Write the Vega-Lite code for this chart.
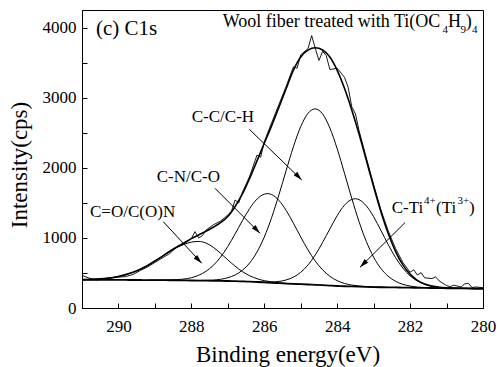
{
"$schema": "https://vega.github.io/schema/vega-lite/v6.json",
"width": 401, "height": 298,
"autosize": {"type": "none"},
"padding": {"left": 82, "top": 10, "right": 17, "bottom": 59},
"background": "white",
"config": {"view": {"stroke": "black", "strokeWidth": 1}, "font": "Liberation Serif"},
"datasets": {
"raw": [{"e":291.0,"v":465},{"e":290.8,"v":425},{"e":290.6,"v":400},{"e":290.4,"v":412},{"e":290.2,"v":426},{"e":290.0,"v":440},{"e":289.8,"v":448},{"e":289.6,"v":478},{"e":289.4,"v":535},{"e":289.2,"v":585},{"e":289.0,"v":650},{"e":288.8,"v":712},{"e":288.6,"v":775},{"e":288.4,"v":868},{"e":288.2,"v":915},{"e":288.0,"v":990},{"e":287.9,"v":1090},{"e":287.8,"v":1000},{"e":287.7,"v":1030},{"e":287.6,"v":1110},{"e":287.4,"v":1185},{"e":287.2,"v":1240},{"e":287.0,"v":1325},{"e":286.9,"v":1380},{"e":286.8,"v":1540},{"e":286.7,"v":1500},{"e":286.6,"v":1650},{"e":286.4,"v":1880},{"e":286.2,"v":2180},{"e":286.1,"v":2150},{"e":286.0,"v":2370},{"e":285.8,"v":2640},{"e":285.6,"v":2900},{"e":285.4,"v":3160},{"e":285.2,"v":3440},{"e":285.1,"v":3420},{"e":285.0,"v":3610},{"e":284.8,"v":3700},{"e":284.7,"v":3885},{"e":284.6,"v":3700},{"e":284.5,"v":3530},{"e":284.4,"v":3660},{"e":284.3,"v":3600},{"e":284.2,"v":3400},{"e":284.0,"v":3420},{"e":283.8,"v":3290},{"e":283.7,"v":3150},{"e":283.6,"v":2870},{"e":283.5,"v":2770},{"e":283.4,"v":2530},{"e":283.2,"v":2140},{"e":283.0,"v":1760},{"e":282.8,"v":1400},{"e":282.6,"v":1100},{"e":282.4,"v":850},{"e":282.2,"v":650},{"e":282.0,"v":510},{"e":281.9,"v":545},{"e":281.8,"v":470},{"e":281.7,"v":505},{"e":281.6,"v":430},{"e":281.4,"v":420},{"e":281.3,"v":445},{"e":281.2,"v":385},{"e":281.0,"v":320},{"e":280.9,"v":305},{"e":280.8,"v":325},{"e":280.6,"v":300},{"e":280.5,"v":345},{"e":280.4,"v":352},{"e":280.3,"v":292},{"e":280.2,"v":300},{"e":280.0,"v":290}],
"bg": [{"e":291.0,"v":402},{"e":290.8,"v":402},{"e":290.6,"v":401},{"e":290.4,"v":401},{"e":290.2,"v":400},{"e":290.0,"v":400},{"e":289.8,"v":400},{"e":289.6,"v":399},{"e":289.4,"v":399},{"e":289.2,"v":398},{"e":289.0,"v":398},{"e":288.8,"v":397},{"e":288.6,"v":396},{"e":288.4,"v":395},{"e":288.2,"v":393},{"e":288.0,"v":392},{"e":287.8,"v":391},{"e":287.6,"v":390},{"e":287.4,"v":388},{"e":287.2,"v":386},{"e":287.0,"v":385},{"e":286.8,"v":383},{"e":286.6,"v":380},{"e":286.4,"v":376},{"e":286.2,"v":371},{"e":286.0,"v":365},{"e":285.8,"v":360},{"e":285.6,"v":354},{"e":285.4,"v":349},{"e":285.2,"v":344},{"e":285.0,"v":340},{"e":284.8,"v":335},{"e":284.6,"v":330},{"e":284.4,"v":325},{"e":284.2,"v":319},{"e":284.0,"v":314},{"e":283.8,"v":310},{"e":283.6,"v":307},{"e":283.4,"v":304},{"e":283.2,"v":301},{"e":283.0,"v":298},{"e":282.8,"v":296},{"e":282.6,"v":295},{"e":282.4,"v":293},{"e":282.2,"v":291},{"e":282.0,"v":290},{"e":281.8,"v":288},{"e":281.6,"v":287},{"e":281.4,"v":285},{"e":281.2,"v":284},{"e":281.0,"v":282},{"e":280.8,"v":281},{"e":280.6,"v":280},{"e":280.4,"v":279},{"e":280.2,"v":277},{"e":280.0,"v":276}],
"fit": [{"e":291.0,"v":405},{"e":290.8,"v":408},{"e":290.6,"v":412},{"e":290.4,"v":420},{"e":290.2,"v":431},{"e":290.0,"v":450},{"e":289.8,"v":476},{"e":289.6,"v":509},{"e":289.4,"v":554},{"e":289.2,"v":607},{"e":289.0,"v":670},{"e":288.8,"v":737},{"e":288.6,"v":806},{"e":288.4,"v":871},{"e":288.2,"v":928},{"e":288.0,"v":989},{"e":287.8,"v":1042},{"e":287.6,"v":1094},{"e":287.4,"v":1151},{"e":287.2,"v":1217},{"e":287.0,"v":1305},{"e":286.8,"v":1447},{"e":286.6,"v":1626},{"e":286.4,"v":1851},{"e":286.2,"v":2099},{"e":286.0,"v":2349},{"e":285.8,"v":2598},{"e":285.6,"v":2860},{"e":285.4,"v":3127},{"e":285.2,"v":3392},{"e":285.0,"v":3580},{"e":284.8,"v":3678},{"e":284.6,"v":3711},{"e":284.4,"v":3680},{"e":284.2,"v":3579},{"e":284.0,"v":3389},{"e":283.8,"v":3133},{"e":283.6,"v":2825},{"e":283.4,"v":2481},{"e":283.2,"v":2108},{"e":283.0,"v":1729},{"e":282.8,"v":1373},{"e":282.6,"v":1062},{"e":282.4,"v":808},{"e":282.2,"v":616},{"e":282.0,"v":483},{"e":281.8,"v":395},{"e":281.6,"v":343},{"e":281.4,"v":312},{"e":281.2,"v":295},{"e":281.0,"v":287},{"e":280.8,"v":283},{"e":280.6,"v":281},{"e":280.4,"v":279},{"e":280.2,"v":277},{"e":280.0,"v":276}],
"co": [{"e":291.0,"v":405},{"e":290.8,"v":408},{"e":290.6,"v":412},{"e":290.4,"v":420},{"e":290.2,"v":431},{"e":290.0,"v":450},{"e":289.8,"v":476},{"e":289.6,"v":509},{"e":289.4,"v":554},{"e":289.2,"v":607},{"e":289.0,"v":670},{"e":288.8,"v":735},{"e":288.6,"v":801},{"e":288.4,"v":861},{"e":288.2,"v":908},{"e":288.0,"v":939},{"e":287.8,"v":949},{"e":287.6,"v":927},{"e":287.4,"v":866},{"e":287.2,"v":780},{"e":287.0,"v":686},{"e":286.8,"v":596},{"e":286.6,"v":519},{"e":286.4,"v":460},{"e":286.2,"v":418},{"e":286.0,"v":390},{"e":285.8,"v":372},{"e":285.6,"v":359},{"e":285.4,"v":351},{"e":285.2,"v":345},{"e":285.0,"v":340}],
"cn": [{"e":289.2,"v":398},{"e":289.0,"v":399},{"e":288.8,"v":399},{"e":288.6,"v":400},{"e":288.4,"v":405},{"e":288.2,"v":413},{"e":288.0,"v":432},{"e":287.8,"v":467},{"e":287.6,"v":523},{"e":287.4,"v":607},{"e":287.2,"v":725},{"e":287.0,"v":878},{"e":286.8,"v":1056},{"e":286.6,"v":1245},{"e":286.4,"v":1419},{"e":286.2,"v":1553},{"e":286.0,"v":1623},{"e":285.9,"v":1631},{"e":285.8,"v":1618},{"e":285.6,"v":1536},{"e":285.4,"v":1392},{"e":285.2,"v":1209},{"e":285.0,"v":1013},{"e":284.8,"v":828},{"e":284.6,"v":669},{"e":284.4,"v":544},{"e":284.2,"v":452},{"e":284.0,"v":390},{"e":283.8,"v":350},{"e":283.6,"v":327},{"e":283.4,"v":314},{"e":283.2,"v":305},{"e":283.0,"v":300},{"e":282.8,"v":297},{"e":282.6,"v":295}],
"cc": [{"e":288.0,"v":393},{"e":287.8,"v":393},{"e":287.6,"v":395},{"e":287.4,"v":399},{"e":287.2,"v":409},{"e":287.0,"v":432},{"e":286.8,"v":471},{"e":286.6,"v":538},{"e":286.4,"v":643},{"e":286.2,"v":798},{"e":286.0,"v":1012},{"e":285.8,"v":1287},{"e":285.6,"v":1611},{"e":285.4,"v":1961},{"e":285.2,"v":2301},{"e":285.0,"v":2587},{"e":284.8,"v":2777},{"e":284.6,"v":2840},{"e":284.4,"v":2767},{"e":284.2,"v":2566},{"e":284.0,"v":2271},{"e":283.8,"v":1922},{"e":283.6,"v":1564},{"e":283.4,"v":1231},{"e":283.2,"v":948},{"e":283.0,"v":725},{"e":282.8,"v":563},{"e":282.6,"v":453},{"e":282.4,"v":381},{"e":282.2,"v":338},{"e":282.0,"v":313},{"e":281.8,"v":299},{"e":281.6,"v":292},{"e":281.4,"v":287},{"e":281.2,"v":285}],
"cti": [{"e":286.6,"v":380},{"e":286.4,"v":377},{"e":286.2,"v":373},{"e":286.0,"v":370},{"e":285.8,"v":371},{"e":285.6,"v":379},{"e":285.4,"v":400},{"e":285.2,"v":440},{"e":285.0,"v":509},{"e":284.8,"v":614},{"e":284.6,"v":757},{"e":284.4,"v":935},{"e":284.2,"v":1129},{"e":284.0,"v":1317},{"e":283.8,"v":1466},{"e":283.6,"v":1548},{"e":283.5,"v":1558},{"e":283.4,"v":1545},{"e":283.2,"v":1457},{"e":283.0,"v":1301},{"e":282.8,"v":1106},{"e":282.6,"v":905},{"e":282.4,"v":720},{"e":282.2,"v":570},{"e":282.0,"v":459},{"e":281.8,"v":384},{"e":281.6,"v":338},{"e":281.4,"v":310},{"e":281.2,"v":295},{"e":281.0,"v":287},{"e":280.8,"v":283},{"e":280.6,"v":281},{"e":280.4,"v":279}],
"arrows": [{"e":288.77,"v":1231,"e2":287.716,"v2":638},{"e":287.352,"v":1707,"e2":286.117,"v2":1065},{"e":286.41,"v":2549,"e2":284.973,"v2":1826},{"e":282.14,"v":1217,"e2":283.374,"v2":581}],
"heads": [{"e":287.716,"v":638,"dir":"se"},{"e":286.117,"v":1065,"dir":"se"},{"e":284.973,"v":1826,"dir":"se"},{"e":283.374,"v":581,"dir":"sw"}],
"texts": [
{"t":"(c) C1s","e":290.616,"v":3893,"role":"panel"},
{"t":"C-C/C-H","e":287.99,"v":2657,"role":"lab"},
{"t":"C-N/C-O","e":288.95,"v":1801,"role":"lab"},
{"t":"C=O/C(O)N","e":290.78,"v":1302,"role":"lab"},
{"t":"C-Ti","e":282.505,"v":1351,"role":"lab"},
{"t":"(Ti","e":281.29,"v":1351,"role":"lab"},
{"t":")","e":280.384,"v":1351,"role":"lab"},
{"t":"4+","e":281.62,"v":1483,"role":"sup"},
{"t":"3+","e":280.70,"v":1483,"role":"sup"},
{"t":"Wool fiber treated with Ti(OC","e":287.14,"v":4012,"role":"top"},
{"t":"H","e":280.96,"v":4012,"role":"top"},
{"t":")","e":280.47,"v":4012,"role":"top"},
{"t":"4","e":281.11,"v":3922,"role":"sub"},
{"t":"9","e":280.62,"v":3922,"role":"sub"},
{"t":"4","e":280.30,"v":3922,"role":"sub"}
]
},
"encoding": {
"x": {"field": "e", "type": "quantitative",
 "scale": {"domain": [280, 291], "reverse": true, "nice": false, "zero": false},
 "axis": {"title": "Binding energy(eV)", "values": [280,281,282,283,284,285,286,287,288,289,290,291],
  "labelExpr": "datum.value % 2 === 0 ? datum.label : ''", "format": "d", "grid": false,
  "tickSize": -5, "tickColor": "black", "tickWidth": 1, "domainColor": "black", "domainWidth": 1,
  "labelFont": "Liberation Serif", "labelFontSize": 17, "labelColor": "black", "labelPadding": 15,
  "labelBaseline": "top", "labelFlush": false, "labelOverlap": false,
  "titleFont": "Liberation Serif", "titleFontSize": 23, "titleFontWeight": "normal", "titleColor": "black",
  "titleX": 205.5, "titleY": 53.7, "titleBaseline": "alphabetic",
  "encode": {"ticks": {"update": {"y2": {"signal": "datum.value % 2 === 0 ? -5 : -3"}}}}}},
"y": {"field": "v", "type": "quantitative",
 "scale": {"domain": [0, 4250], "nice": false, "zero": false},
 "axis": {"title": "Intensity(cps)", "values": [0,500,1000,1500,2000,2500,3000,3500,4000],
  "labelExpr": "datum.value % 1000 === 0 ? datum.label : ''", "format": "d", "grid": false,
  "tickSize": -5, "tickColor": "black", "tickWidth": 1, "domainColor": "black", "domainWidth": 1,
  "labelFont": "Liberation Serif", "labelFontSize": 17, "labelColor": "black", "labelPadding": 11,
  "labelFlush": false, "labelOverlap": false,
  "titleFont": "Liberation Serif", "titleFontSize": 23, "titleFontWeight": "normal", "titleColor": "black",
  "titleX": -56, "titleY": 154.5, "titleBaseline": "alphabetic", "titleAngle": -90, "titleAlign": "center",
  "encode": {"ticks": {"update": {"x2": {"signal": "datum.value % 1000 === 0 ? 5 : 3"}}}}}}
},
"layer": [
{"data": {"name": "bg"}, "mark": {"type": "line", "color": "black", "strokeWidth": 1.8, "interpolate": "monotone"}},
{"data": {"name": "co"}, "mark": {"type": "line", "color": "black", "strokeWidth": 1, "interpolate": "monotone"}},
{"data": {"name": "cn"}, "mark": {"type": "line", "color": "black", "strokeWidth": 1, "interpolate": "monotone"}},
{"data": {"name": "cc"}, "mark": {"type": "line", "color": "black", "strokeWidth": 1, "interpolate": "monotone"}},
{"data": {"name": "cti"}, "mark": {"type": "line", "color": "black", "strokeWidth": 1, "interpolate": "monotone"}},
{"data": {"name": "raw"}, "mark": {"type": "line", "color": "black", "strokeWidth": 0.9}},
{"data": {"name": "fit"}, "mark": {"type": "line", "color": "black", "strokeWidth": 1.6, "interpolate": "monotone"}},
{"data": {"name": "arrows"}, "mark": {"type": "rule", "color": "black", "strokeWidth": 1},
 "encoding": {"x2": {"field": "e2"}, "y2": {"field": "v2"}}},
{"data": {"name": "heads"}, "mark": {"type": "point", "shape": "M0,0L-0.28,1L0.28,1Z", "size": 324, "filled": true, "color": "black", "opacity": 1, "strokeWidth": 0},
 "encoding": {"angle": {"field": "dir", "type": "nominal", "scale": {"domain": ["se", "sw"], "range": [136, 225]}, "legend": null}}},
{"data": {"name": "texts"}, "transform": [{"filter": "datum.role === 'lab'"}],
 "mark": {"type": "text", "font": "Liberation Serif", "fontSize": 17, "align": "left", "baseline": "alphabetic", "color": "black"},
 "encoding": {"text": {"field": "t"}}},
{"data": {"name": "texts"}, "transform": [{"filter": "datum.role === 'top'"}],
 "mark": {"type": "text", "font": "Liberation Serif", "fontSize": 18, "align": "left", "baseline": "alphabetic", "color": "black"},
 "encoding": {"text": {"field": "t"}}},
{"data": {"name": "texts"}, "transform": [{"filter": "datum.role === 'sup' || datum.role === 'sub'"}],
 "mark": {"type": "text", "font": "Liberation Serif", "fontSize": 11, "align": "left", "baseline": "alphabetic", "color": "black"},
 "encoding": {"text": {"field": "t"}}},
{"data": {"name": "texts"}, "transform": [{"filter": "datum.role === 'panel'"}],
 "mark": {"type": "text", "font": "Liberation Serif", "fontSize": 21, "align": "left", "baseline": "alphabetic", "color": "black"},
 "encoding": {"text": {"field": "t"}}}
]
}
